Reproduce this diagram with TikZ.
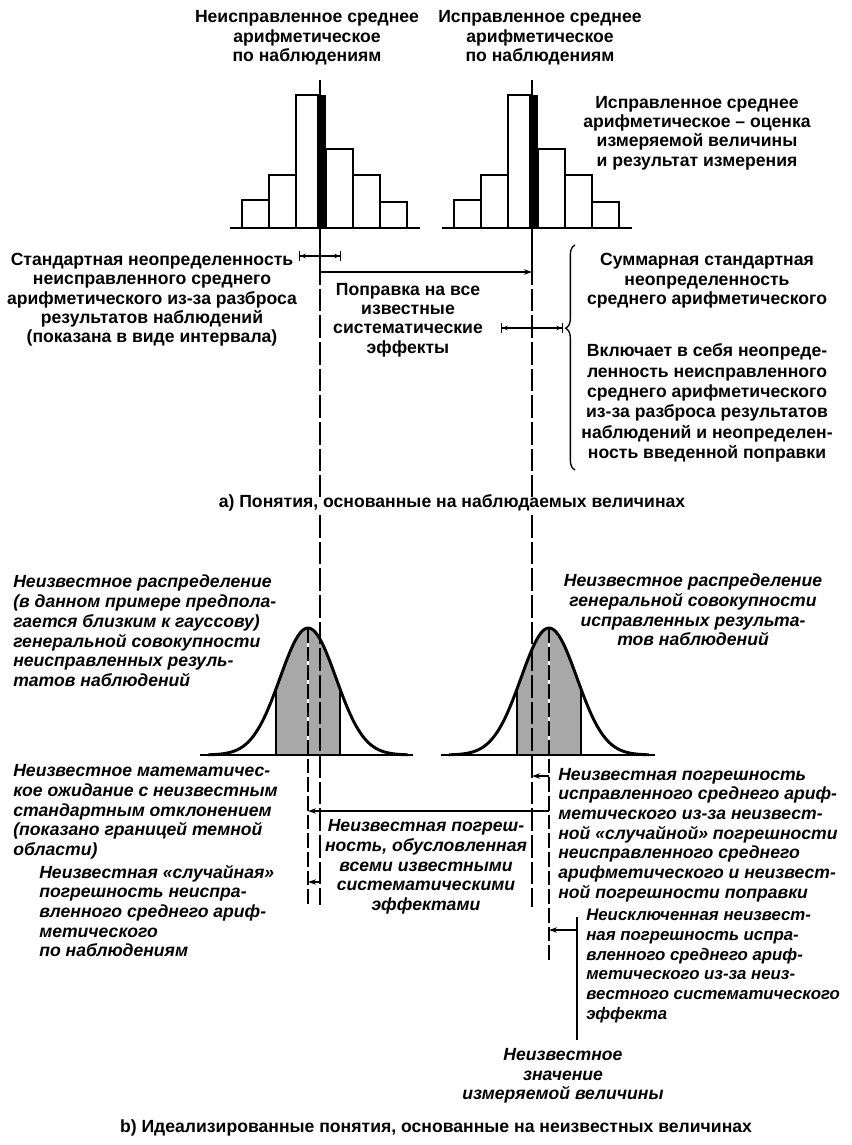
\documentclass[tikz,border=0pt]{standalone}
\usepackage{fontspec}
\setmainfont{Liberation Sans}
\usetikzlibrary{arrows.meta, decorations.pathreplacing}
\definecolor{areagray}{RGB}{168,168,168}

\begin{document}
\begin{tikzpicture}[x=0.75pt,y=0.75pt,yscale=-1,xscale=1,
  txt/.style={inner sep=0.75pt, align=center, font=\fontsize{13.2}{14.5}\selectfont\bfseries},
  itxt/.style={inner sep=0.75pt, align=left, font=\fontsize{13.2}{14.8}\selectfont\bfseries\itshape},
  mline/.style={line width=1.5pt},
  dline/.style={line width=1.5pt, dash pattern=on 17pt off 3pt},
  eline/.style={line width=1.3pt, dash pattern=on 11pt off 3pt},
  hbar/.style={draw, line width=2pt, fill=white},
  gcurve/.style={line width=2.2pt, line join=round},
  ival/.style={line width=1pt, {Bar[width=7pt]Stealth[length=4pt,width=3.5pt]}-{Stealth[length=4pt,width=3.5pt]Bar[width=7pt]}},
  err/.style={line width=1pt, -{Stealth[length=6pt,width=4pt]}},
  declare function={gs(\t)=127*exp(-(\t*\t)/1568);}
]
\useasboundingbox (0,0) rectangle (852,1145);

%Shape: Histograms
\foreach \xa/\xb/\yt in {242/269/200, 269/296/175, 296/320/95, 326/353/149, 353/380/175, 380/407/202}{
  \draw[hbar] (\xa,228) rectangle (\xb,\yt);
  \draw[hbar] (\xa+212,228) rectangle (\xb+212,\yt);
}
\fill (317,95) rectangle (326,228);
\fill (529,95) rectangle (538,228);
%Straight Lines
\draw[line width=2pt] (230,228) -- (420,228);
\draw[line width=2pt] (442,228) -- (632,228);

%Straight Lines (means, upper part)
\draw[mline] (320,80) -- (320,262);
\draw[dline] (320,262) -- (320,497);
\draw[mline] (532,80) -- (532,262);
\draw[dline] (532,262) -- (532,497);

%Straight Lines (intervals and correction)
\draw[ival] (299,256) -- (341,256);
\draw[ival] (501,328) -- (563,328);
\draw[line width=1pt, -{Stealth[length=6pt,width=4pt]}] (320,272) -- (532,272);
\draw[line width=1pt, decorate, decoration={brace, amplitude=7pt, aspect=0.63}] (575,470) -- (575,245);

% Text Node
\node[txt] (umeanlbl) at (307,38) {Неисправленное среднее\\арифметическое\\по наблюдениям};
% Text Node
\node[txt] (cmeanlbl) at (540,38) {Исправленное среднее\\арифметическое\\по наблюдениям};
% Text Node
\node[txt] (estlbl) at (697,133) {Исправленное среднее\\арифметическое – оценка\\измеряемой величины\\и результат измерения};
% Text Node
\node[txt] (sulbl) at (152,300) {Стандартная неопределенность\\неисправленного среднего\\арифметического из-за разброса\\результатов наблюдений\\(показана в виде интервала)};
% Text Node
\node[txt] (corrlbl) at (408,320) {Поправка на все\\известные\\систематические\\эффекты};
% Text Node
\node[txt] (uclbl) at (707,281) {Суммарная стандартная\\неопределенность\\среднего арифметического};
% Text Node
\node[txt, font=\fontsize{13.2}{15.2}\selectfont\bfseries] (inclbl) at (707,403) {Включает в себя неопреде-\\ленность неисправленного\\среднего арифметического\\из-за разброса результатов\\наблюдений и неопределен-\\ность введенной поправки};
% Text Node
\node[txt] (capa) at (452,503) {а) Понятия, основанные на наблюдаемых величинах};

%Shape: Shaded areas
\fill[areagray] (276,755) -- plot[domain=-32:32,samples=33] ({308+\x},{755-gs(\x)}) -- (340,755) -- cycle;
\fill[areagray] (517,755) -- plot[domain=-32:32,samples=33] ({549+\x},{755-gs(\x)}) -- (581,755) -- cycle;
\draw[mline] (276,755) -- (276,{755-gs(32)});
\draw[mline] (340,755) -- (340,{755-gs(32)});
\draw[mline] (517,755) -- (517,{755-gs(32)});
\draw[mline] (581,755) -- (581,{755-gs(32)});

%Straight Lines (lower part)
\draw[dline] (320,515) -- (320,905);
\draw[dline] (532,515) -- (532,907);
\draw[white, line width=1.3pt] (308,628) -- (308,755);
\draw[white, line width=1.3pt] (549,628) -- (549,755);
\draw[eline] (308,628) -- (308,905);
\draw[eline] (549,628) -- (549,963);
\draw[mline] (577,917) -- (577,1040);

%Curve Lines
\draw[gcurve] plot[domain=-100:100,samples=101,smooth] ({308+\x},{755-gs(\x)});
\draw[gcurve] plot[domain=-100:100,samples=101,smooth] ({549+\x},{755-gs(\x)});
\draw[line width=2.2pt] (200,755) -- (413,755);
\draw[line width=2.2pt] (441,755) -- (655,755);

%Straight Lines (errors)
\draw[err] (549,776) -- (532,776);
\draw[err] (549,811) -- (308,811);
\draw[err] (320,882) -- (308,882);
\draw[err] (577,930) -- (549,930);

% Text Node
\node[itxt, anchor=west] (distl) at (12,631) {Неизвестное распределение\\(в данном примере предпола-\\гается близким к гауссову)\\генеральной совокупности\\неисправленных резуль-\\татов наблюдений};
% Text Node
\node[itxt, align=center] (distr) at (693,610) {Неизвестное распределение\\генеральной совокупности\\исправленных результа-\\тов наблюдений};
% Text Node
\node[itxt, anchor=west] (expl) at (12,812) {Неизвестное математичес-\\кое ожидание с неизвестным\\стандартным отклонением\\(показано границей темной\\области)};
% Text Node
\node[itxt, anchor=west] (randl) at (38,911) {Неизвестная «случайная»\\погрешность неиспра-\\вленного среднего ариф-\\метического\\по наблюдениям};
% Text Node
\node[itxt, align=center] (syserr) at (426,867) {Неизвестная погреш-\\ность, обусловленная\\всеми известными\\систематическими\\эффектами};
% Text Node
\node[itxt, anchor=west] (cerr) at (557,835) {Неизвестная погрешность\\исправленного среднего ариф-\\метического из-за неизвест-\\ной «случайной» погрешности\\неисправленного среднего\\арифметического и неизвест-\\ной погрешности поправки};
% Text Node
\node[itxt, anchor=west, font=\fontsize{12.6}{14.8}\selectfont\bfseries\itshape] (remerr) at (585,966) {Неисключенная неизвест-\\ная погрешность испра-\\вленного среднего ариф-\\метического из-за неиз-\\вестного систематического\\эффекта};
% Text Node
\node[itxt, align=center] (truelbl) at (563,1076) {Неизвестное\\значение\\измеряемой величины};
% Text Node
\node[txt] (capb) at (436,1128) {b) Идеализированные понятия, основанные на неизвестных величинах};

\end{tikzpicture}
\end{document}
